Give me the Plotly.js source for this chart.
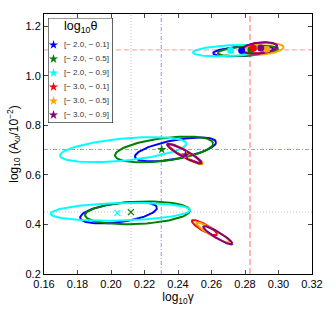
<!DOCTYPE html>
<html><head><meta charset="utf-8">
<script src="https://cdn.plot.ly/plotly-3.0.1.min.js"></script>
<style>html,body{margin:0;padding:0;background:#fff}#chart{width:336px;height:310px}</style>
</head><body><div id="chart"></div>
<script>
// Series (legend) labels and colours
const seriesLabels = ['[\u2212 2.0, \u2212 0.1]','[\u2212 2.0, \u2212 0.5]','[\u2212 2.0, \u2212 0.9]','[\u2212 3.0, \u2212 0.1]','[\u2212 3.0, \u2212 0.5]','[\u2212 3.0, \u2212 0.9]'];
const seriesColors = ['#0000ff','#008000','#00ffff','#ff0000','#ffa500','#800080'];

// True values (reference lines)
const truthX = [0.212, 0.230, 0.283];
const truthY = [0.45, 0.703, 1.105];

// Contour ellipses: centre, half-extents and correlation, per series
// Group A (truth at 0.283, 1.105)
const aCx  = [0.279, 0.2818, 0.271, 0.2885, 0.291, 0.2888];
const aCy  = [1.100, 1.101, 1.102, 1.113, 1.109, 1.1125];
const aSx  = [0.018, 0.018, 0.022, 0.0105, 0.012, 0.0105];
const aSy  = [0.021, 0.021, 0.023, 0.022, 0.023, 0.0235];
const aRho = [0.4, 0.4, 0.3, 0.3, 0.3, 0.3];
// Group B (truth at 0.230, 0.703)
const bCx  = [0.2385, 0.2317, 0.2073, 0.2438, 0.2442, 0.2438];
const bCy  = [0.703, 0.703, 0.7025, 0.687, 0.685, 0.686];
const bSx  = [0.0242, 0.0293, 0.0377, 0.0095, 0.0105, 0.0103];
const bSy  = [0.048, 0.052, 0.0505, 0.037, 0.042, 0.040];
const bRho = [0.6, 0.46, 0.47, -0.92, -0.92, -0.92];
// Group C (truth at 0.212, 0.45)
const cCx  = [0.2045, 0.2158, 0.2056, 0.2558, 0.261, 0.2638];
const cCy  = [0.4475, 0.447, 0.451, 0.387, 0.367, 0.3565];
const cSx  = [0.0229, 0.0313, 0.0416, 0.0075, 0.010, 0.0087];
const cSy  = [0.0435, 0.046, 0.036, 0.031, 0.041, 0.037];
const cRho = [0.45, 0.2, 0.2, -0.86, -0.93, -0.92];

// Estimate markers
const aMx = [0.278, 0.2835, 0.2714, 0.285, 0.293, 0.2894];
const aMy = [1.103, 1.106, 1.103, 1.112, 1.108, 1.113];
const bMx = [null, 0.2303, null, null, 0.245, 0.2445];
const bMy = [null, 0.703, null, null, 0.679, 0.681];
const cMx = [null, 0.2119, 0.2038, null, null, null];
const cMy = [null, 0.45, 0.447, null, null, null];

function ellipse(cx, cy, sx, sy, rho) {
  const xs = [], ys = [], n = 90, r2 = Math.sqrt(1 - rho * rho);
  for (let i = 0; i <= n; i++) {
    const t = 2 * Math.PI * i / n;
    xs.push(cx + sx * Math.cos(t));
    ys.push(cy + sy * (rho * Math.cos(t) + r2 * Math.sin(t)));
  }
  return {xs, ys};
}

const traces = [];
const groups = [[aCx,aCy,aSx,aSy,aRho],[bCx,bCy,bSx,bSy,bRho],[cCx,cCy,cSx,cSy,cRho]];
for (let s = 0; s < seriesLabels.length; s++) {
  groups.forEach(g => {
    const e = ellipse(g[0][s], g[1][s], g[2][s], g[3][s], g[4][s]);
    traces.push({x: e.xs, y: e.ys, mode: 'lines', line: {color: seriesColors[s], width: 2},
      hoverinfo: 'skip', showlegend: false});
  });
}
const markerGroups = [[aMx, aMy, 'circle', 7, 0], [bMx, bMy, 'star', 7, 0], [cMx, cMy, 'x-thin-open', 6, 1.3]];
for (let s = 0; s < seriesLabels.length; s++) {
  markerGroups.forEach(m => {
    if (m[0][s] === null) return;
    traces.push({x: [m[0][s]], y: [m[1][s]], mode: 'markers',
      marker: {symbol: m[2], size: m[3], color: seriesColors[s], line: {color: seriesColors[s], width: m[4]}},
      showlegend: false});
  });
}

// Manual legend on auxiliary axes
const legendRows = seriesLabels.map((_, i) => 27 + i * 14);
traces.push({x: seriesLabels.map(() => 5.5), y: legendRows, xaxis: 'x2', yaxis: 'y2', mode: 'markers',
  marker: {symbol: 'star', size: 7, color: seriesColors}, showlegend: false, hoverinfo: 'skip'});

const font = 'Liberation Sans, Arial, sans-serif';
const annotations = seriesLabels.map((lab, i) => ({xref: 'x2', yref: 'y2', x: 14.5, y: legendRows[i], text: lab,
  showarrow: false, xanchor: 'left', yanchor: 'middle', font: {size: 8, color: '#333', family: font}}));
annotations.push({xref:'x2', yref:'y2', x: 32.5, y: 9, text: 'log<sub>10</sub>\u03b8', showarrow: false,
  font: {size: 12.5, family: font}, xanchor: 'center', yanchor: 'middle'});

const shapes = [];
const vStyles = [{color:'#c4c4c4', width:1, dash:'1px,2px'},{color:'rgba(120,120,255,0.8)', width:1, dash:'4px,2px,1px,2px'},{color:'rgba(255,120,120,0.55)', width:2, dash:'6px,3px'}];
const hStyles = [{color:'#c4c4c4', width:1, dash:'1px,2px'},{color:'rgba(120,120,255,0.8)', width:1, dash:'4px,2px,1px,2px'},{color:'rgba(255,120,120,0.6)', width:1.3, dash:'5px,3px'}];
truthX.forEach((v, i) => shapes.push({type:'line', xref:'x', yref:'y domain', x0:v, x1:v, y0:0, y1:1, line: vStyles[i], layer:'below'}));
truthY.forEach((v, i) => shapes.push({type:'line', xref:'x domain', yref:'y', x0:0, x1:1, y0:v, y1:v, line: hStyles[i], layer:'below'}));
shapes.push({type:'rect', xref:'x2', yref:'y2', x0:0, x1:65, y0:0, y1:105, line:{color:'#000', width:1}, fillcolor:'#fff', layer:'below'});

const layout = {
  width: 336, height: 310,
  margin: {l: 44, r: 24, t: 14, b: 36},
  paper_bgcolor: '#fff', plot_bgcolor: '#fff',
  font: {family: font, size: 11, color: '#000'},
  showlegend: false,
  xaxis: {range: [0.16, 0.32], dtick: 0.02, tick0: 0.16, tickformat: '.2f', ticks: 'inside', ticklen: 4,
    showline: true, linecolor: '#000', linewidth: 1, mirror: 'ticks', showgrid: false, zeroline: false,
    tickfont: {size: 11}, title: {text: 'log<sub>10</sub>\u03b3', font: {size: 12}, standoff: 2}},
  yaxis: {range: [0.2, 1.25], dtick: 0.2, tick0: 0.2, tickformat: '.1f', ticks: 'inside', ticklen: 4,
    showline: true, linecolor: '#000', linewidth: 1, mirror: 'ticks', showgrid: false, zeroline: false,
    tickfont: {size: 11}, title: {text: 'log<sub>10</sub> (A<sub>\u03c9</sub>/10<sup>\u22122</sup>)', font: {size: 12}, standoff: 4}},
  xaxis2: {domain: [0.015, 0.257], range: [0, 65], visible: false, fixedrange: true},
  yaxis2: {domain: [0.581, 0.985], range: [105, 0], visible: false, fixedrange: true, anchor: 'x2'},
  shapes: shapes,
  annotations: annotations
};
Plotly.newPlot('chart', traces, layout, {displayModeBar: false, staticPlot: true});
</script></body></html>
